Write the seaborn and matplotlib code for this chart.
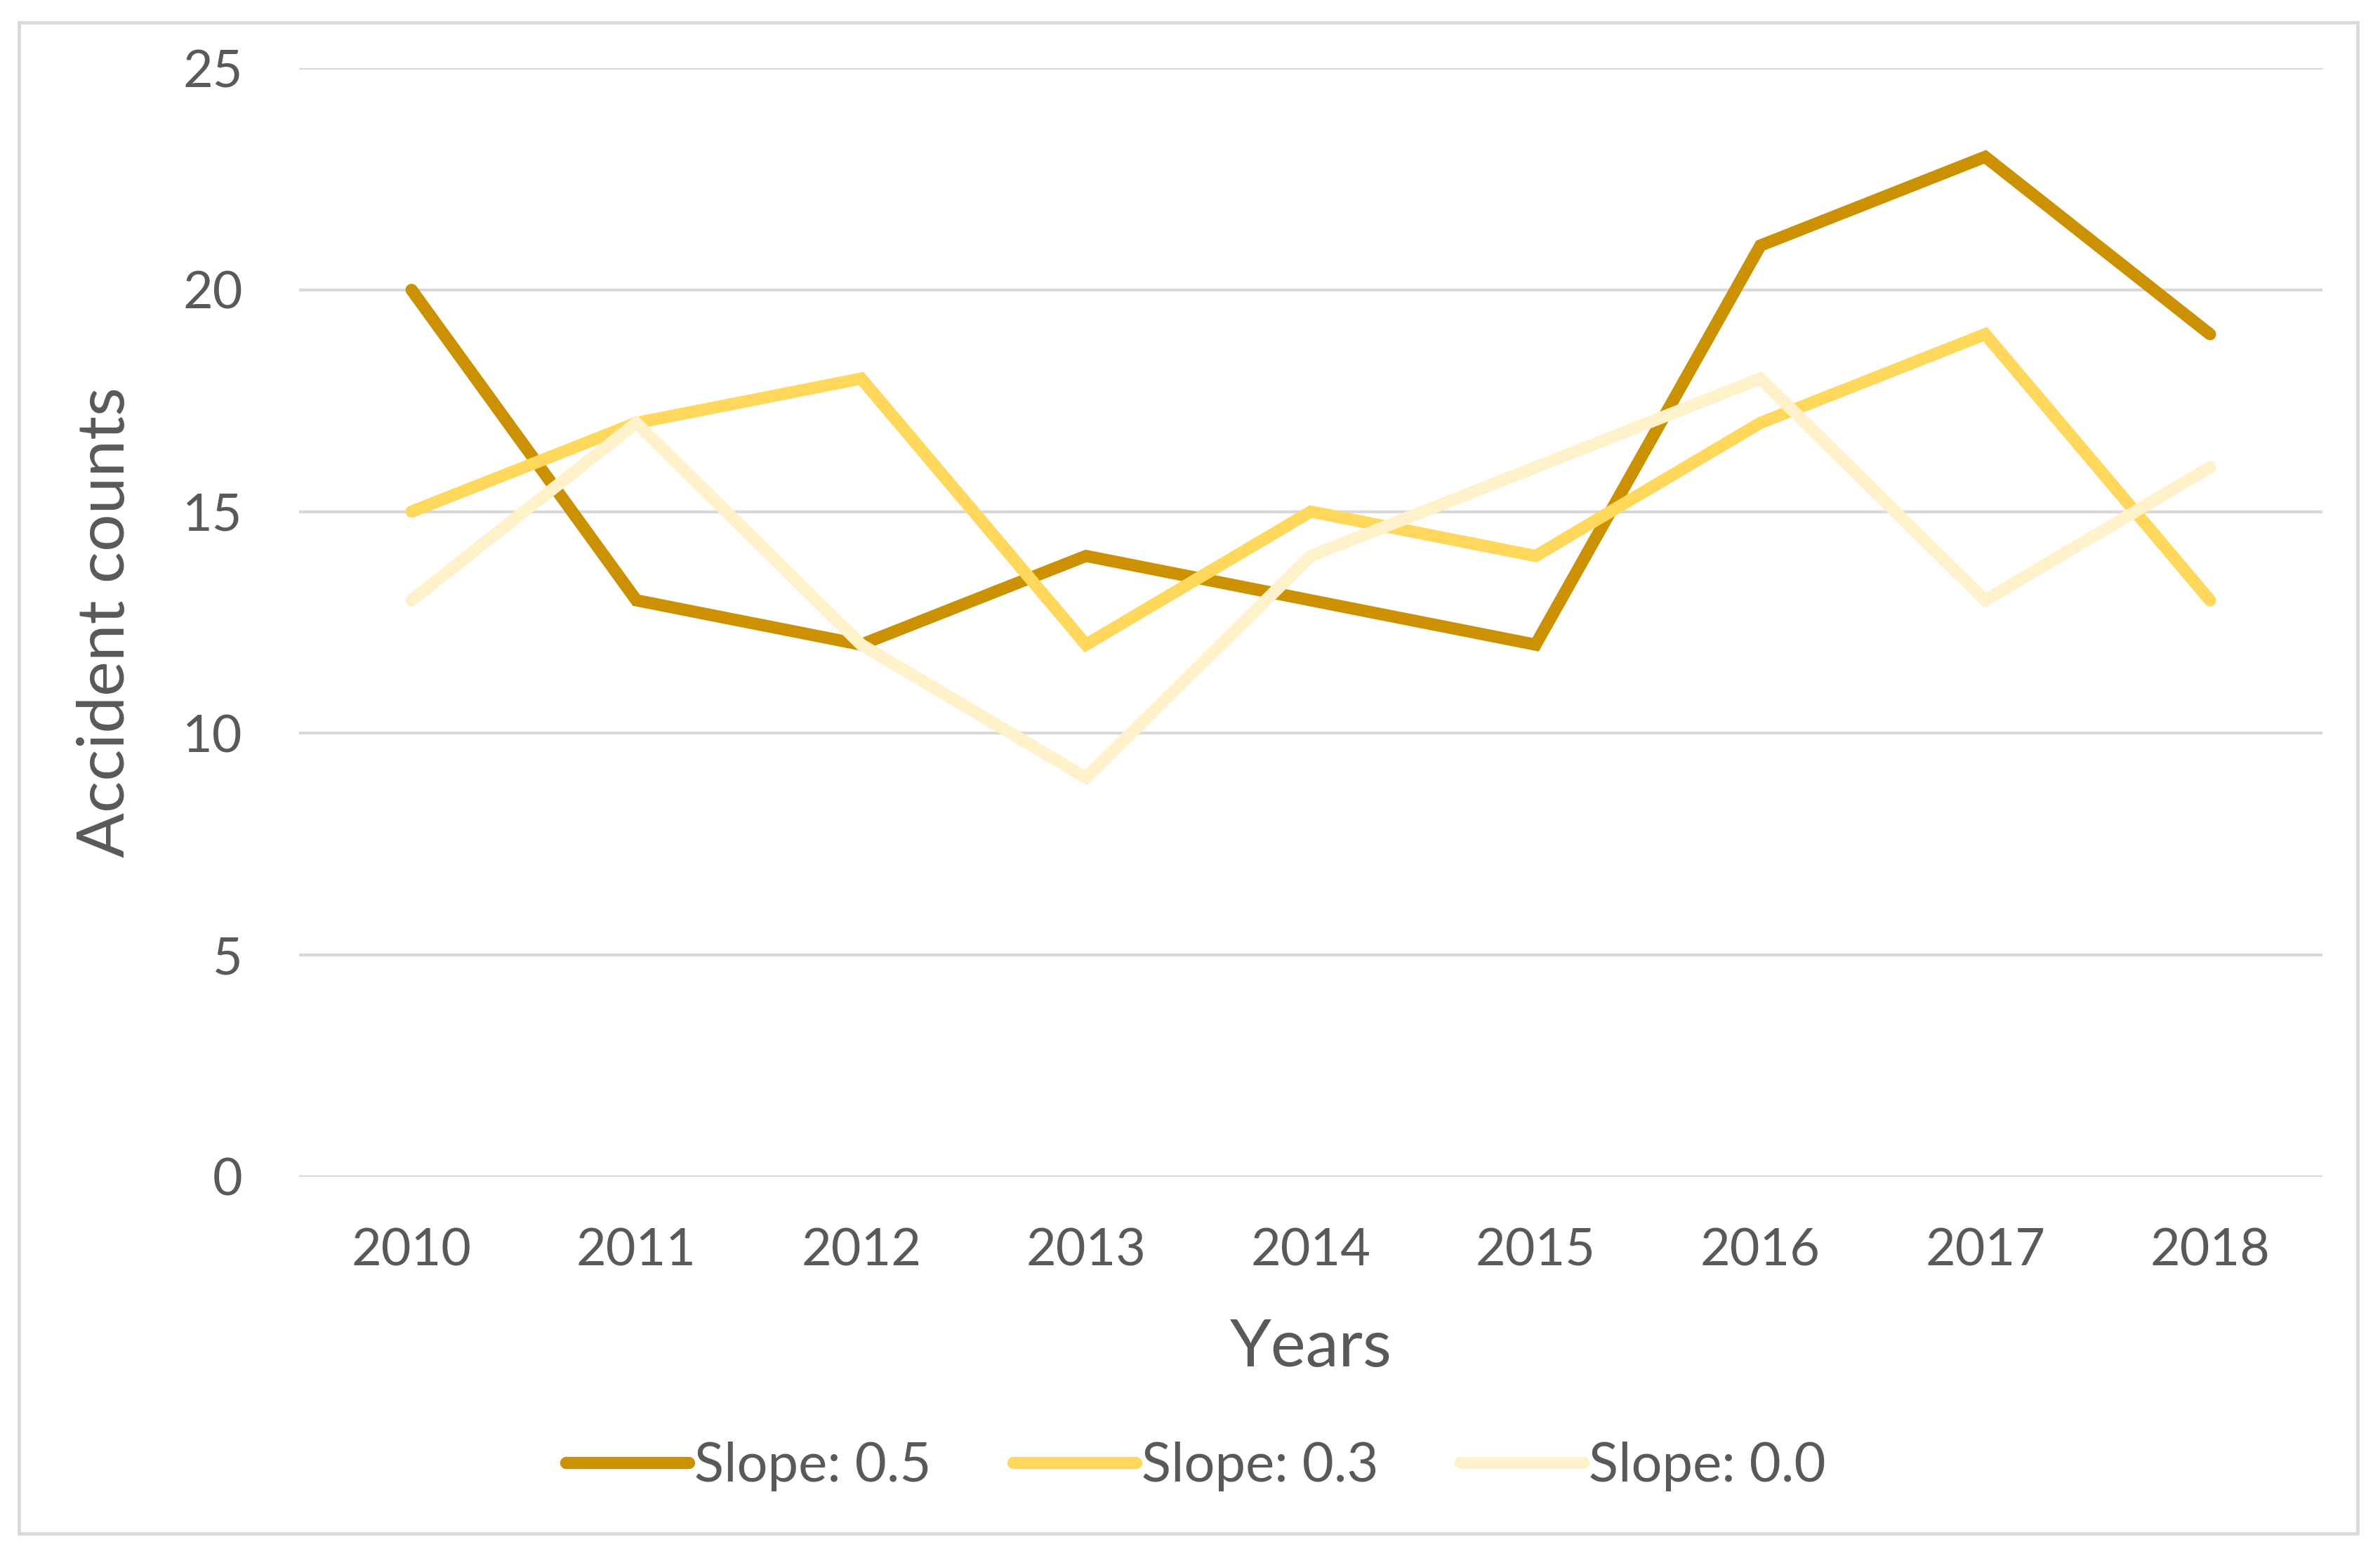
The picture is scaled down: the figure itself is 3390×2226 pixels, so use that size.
import matplotlib
matplotlib.use("Agg")
import matplotlib.pyplot as plt
import seaborn as sns
import pandas as pd
from matplotlib.patches import Rectangle

years = ["2010", "2011", "2012", "2013", "2014", "2015", "2016", "2017", "2018"]
slope_05 = [20, 13, 12, 14, 13, 12, 21, 23, 19]
slope_03 = [15, 17, 18, 12, 15, 14, 17, 19, 13]
slope_00 = [13, 17, 12, 9, 14, 16, 18, 13, 16]
series_names = ["Slope: 0.5", "Slope: 0.3", "Slope: 0.0"]
colors = ["#CC9100", "#FFD75B", "#FFF1C9"]

df = pd.DataFrame({
    "Years": years * 3,
    "Accident counts": slope_05 + slope_03 + slope_00,
    "Series": [series_names[0]] * 9 + [series_names[1]] * 9 + [series_names[2]] * 9,
})

sns.set_theme(style="white")
plt.rcParams["font.family"] = ["Lato", "DejaVu Sans"]
text_color = "#595959"
grid_color = "#D9D9D9"

fig = plt.figure(figsize=(33.9, 22.26), dpi=100)
ax = fig.add_axes([0.1257, 0.2471, 0.9758 - 0.1257, 0.9564 - 0.2471])

sns.lineplot(data=df, x="Years", y="Accident counts", hue="Series",
             hue_order=series_names, palette=colors, linewidth=12.5,
             sort=False, ax=ax)
for line in ax.get_lines():
    line.set_solid_capstyle("round")
    line.set_solid_joinstyle("miter")

ax.set_xlim(-0.5, len(years) - 0.5)
ax.set_ylim(0, 25)
ax.set_yticks([0, 5, 10, 15, 20, 25])
ax.yaxis.grid(True, color=grid_color, linewidth=3)
ax.xaxis.grid(False)
ax.set_axisbelow(True)
for s in ax.spines.values():
    s.set_visible(False)

ax.tick_params(axis="both", length=0, colors=text_color, labelsize=53)
ax.tick_params(axis="y", pad=58)
ax.tick_params(axis="x", pad=52)
ax.set_xlabel("Years", fontsize=68, color=text_color, labelpad=45)
ax.set_ylabel("Accident counts", fontsize=68, color=text_color, labelpad=48)

handles, labels = ax.get_legend_handles_labels()
leg = ax.legend(handles, labels, loc="center", bbox_to_anchor=(0.5 + 8 / 3390, 1 - 2089 / 2226),
                bbox_transform=fig.transFigure, ncol=3, frameon=False,
                fontsize=56, handlelength=2.25, handletextpad=0.1,
                columnspacing=1.5)
for t in leg.get_texts():
    t.set_color(text_color)
for h in leg.get_lines():
    h.set_linewidth(12.5)
    h.set_solid_capstyle("round")

fig.patches.append(Rectangle((27 / 3390, 1 - 2184 / 2226), (3358 - 27) / 3390,
                             (2184 - 32) / 2226, transform=fig.transFigure,
                             fill=False, edgecolor=grid_color, linewidth=3.5))

fig.savefig("out.png", dpi=100, facecolor="white")
